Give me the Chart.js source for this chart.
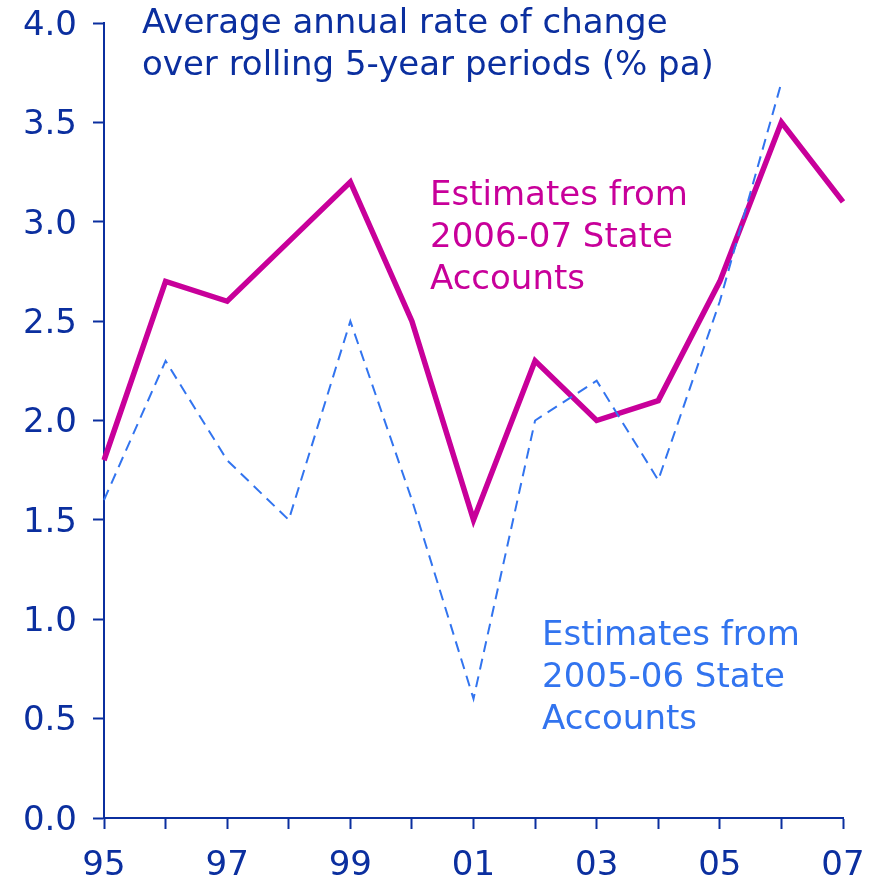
<!DOCTYPE html>
<html>
<head>
<meta charset="utf-8">
<script src="https://cdn.jsdelivr.net/npm/chart.js@4/dist/chart.umd.min.js"></script>
<style>
  html, body { margin: 0; padding: 0; background: #fff; }
  #wrap { width: 875px; height: 882px; }
</style>
</head>
<body>
<div id="wrap"><canvas id="chart" width="875" height="882"></canvas></div>
<script>
const YEARS = ["95", "96", "97", "98", "99", "00", "01", "02", "03", "04", "05", "06", "07"];
const EST_2006_07 = [1.8, 2.7, 2.6, 2.9, 3.2, 2.5, 1.5, 2.3, 2.0, 2.1, 2.7, 3.5, 3.1];
const EST_2005_06 = [1.6, 2.3, 1.8, 1.5, 2.5, 1.6, 0.6, 2.0, 2.2, 1.7, 2.6, 3.7, null];
const Y_MIN = 0;
const Y_MAX = 4;
const Y_STEP = 0.5;

const TITLE_LINES = ["Average annual rate of change", "over rolling 5-year periods (% pa)"];
const LABEL_NEW = ["Estimates from", "2006-07 State", "Accounts"];
const LABEL_OLD = ["Estimates from", "2005-06 State", "Accounts"];

const NAVY = "#0b2f9f";
const MAGENTA = "#c8009a";
const BLUE = "#3274ef";
const FONT = "'DejaVu Sans', Verdana, sans-serif";
const FONT_SIZE = 34;

// y labels sit a little below their tick in the original, so they are drawn here
const textPlugin = {
    id: "texts",
    afterDraw(chart) {
        const ctx = chart.ctx;
        const yScale = chart.scales.y;
        ctx.save();
        ctx.font = `${FONT_SIZE}px ${FONT}`;

        ctx.fillStyle = NAVY;
        ctx.textAlign = "right";
        ctx.textBaseline = "middle";
        yScale.ticks.forEach(t => {
            ctx.fillText(t.value.toFixed(1), 77, yScale.getPixelForValue(t.value) + 3);
        });

        ctx.textAlign = "left";
        ctx.textBaseline = "alphabetic";
        drawLines(ctx, TITLE_LINES, 142, 33, 42, NAVY);
        drawLines(ctx, LABEL_NEW, 430, 205, 42, MAGENTA);
        drawLines(ctx, LABEL_OLD, 542, 645, 42, BLUE);

        ctx.restore();
    }
};

function drawLines(ctx, lines, x, y, step, color) {
    ctx.fillStyle = color;
    lines.forEach((t, i) => {
        ctx.fillText(t, x, y + i * step);
    });
}

const ctx = document.getElementById("chart");

new Chart(ctx, {
    type: "line",
    data: {
        labels: YEARS,
        datasets: [
            {
                label: "Estimates from 2005-06 State Accounts",
                data: EST_2005_06,
                borderColor: BLUE,
                borderWidth: 2,
                borderDash: [11, 7],
                pointRadius: 0,
                tension: 0,
                spanGaps: false
            },
            {
                label: "Estimates from 2006-07 State Accounts",
                data: EST_2006_07,
                borderColor: MAGENTA,
                borderWidth: 5.5,
                pointRadius: 0,
                tension: 0,
                borderJoinStyle: "miter"
            }
        ]
    },
    options: {
        responsive: false,
        animation: false,
        layout: {
            padding: { top: 23, right: 32, left: 0, bottom: 0 }
        },
        plugins: {
            legend: { display: false },
            tooltip: { enabled: false },
            title: { display: false }
        },
        scales: {
            x: {
                type: "category",
                offset: false,
                grid: {
                    display: true,
                    drawOnChartArea: false,
                    drawTicks: true,
                    tickLength: 11,
                    tickColor: NAVY,
                    tickWidth: 2
                },
                border: { display: true, color: NAVY, width: 2 },
                ticks: {
                    autoSkip: false,
                    maxRotation: 0,
                    padding: 17,
                    color: NAVY,
                    font: { family: FONT, size: FONT_SIZE },
                    callback: function (value, index) {
                        return index % 2 === 0 ? YEARS[index] : "";
                    }
                },
                afterFit(scale) {
                    scale.height = 64;
                    scale.paddingLeft = 0;
                    scale.paddingRight = 0;
                }
            },
            y: {
                min: Y_MIN,
                max: Y_MAX,
                grid: {
                    display: true,
                    drawOnChartArea: false,
                    drawTicks: true,
                    tickLength: 11,
                    tickColor: NAVY,
                    tickWidth: 2
                },
                border: { display: true, color: NAVY, width: 2 },
                ticks: {
                    stepSize: Y_STEP,
                    display: false
                },
                afterFit(scale) {
                    scale.width = 104;
                    scale.paddingTop = 0;
                    scale.paddingBottom = 0;
                }
            }
        }
    },
    plugins: [textPlugin]
});
</script>
</body>
</html>
